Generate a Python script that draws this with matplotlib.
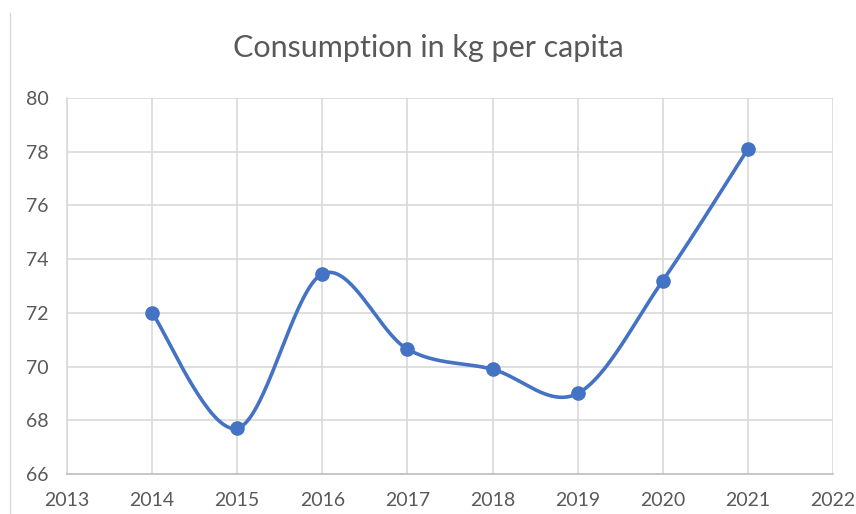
import numpy as np
import matplotlib
matplotlib.use("Agg")
import matplotlib.pyplot as plt
from matplotlib.lines import Line2D

years = [2014, 2015, 2016, 2017, 2018, 2019, 2020, 2021]
consumption = [72.0, 67.7, 73.45, 70.65, 69.9, 69.0, 73.2, 78.1]
title = "Consumption in kg per capita"

plt.rcParams['font.family'] = ['Lato', 'DejaVu Sans']


def smooth_curve(x, y, n=40):
    # Excel-like smoothing: Catmull-Rom as cubic Bezier segments
    p = np.column_stack([x, y]).astype(float)
    pts = np.vstack([p[0], p, p[-1]])
    out = []
    for i in range(1, len(pts) - 2):
        p0, p1, p2, p3 = pts[i - 1], pts[i], pts[i + 1], pts[i + 2]
        c1 = p1 + (p2 - p0) / 6.0
        c2 = p2 - (p3 - p1) / 6.0
        t = np.linspace(0, 1, n)[:, None]
        seg = ((1 - t) ** 3) * p1 + 3 * ((1 - t) ** 2) * t * c1 \
            + 3 * (1 - t) * t ** 2 * c2 + t ** 3 * p2
        out.append(seg if i == 1 else seg[1:])
    out = np.vstack(out)
    return out[:, 0], out[:, 1]


fig = plt.figure(figsize=(8.56, 5.14), dpi=100)
ax = fig.add_axes([67 / 856, 1 - 474 / 514, (833 - 67) / 856, (474 - 98) / 514])

sx, sy = smooth_curve(years, consumption)
ax.plot(sx, sy, color='#4472C4', lw=2.6, solid_capstyle='round', zorder=3)
ax.plot(years, consumption, 'o', color='#4472C4', markersize=9.5, zorder=4)

ax.set_xlim(2013, 2022)
ax.set_ylim(66, 80)
ax.set_xticks(range(2013, 2023))
ax.set_yticks(range(66, 81, 2))
ax.grid(True, color='#D9D9D9', lw=1.2)
ax.set_axisbelow(True)
for s in ['top', 'right']:
    ax.spines[s].set_visible(False)
ax.spines['left'].set_color('#D9D9D9')
ax.spines['bottom'].set_color('#BFBFBF')
ax.spines['left'].set_linewidth(1.2)
ax.spines['bottom'].set_linewidth(1.2)
ax.tick_params(axis='x', length=0, labelsize=14, colors='#595959', pad=13)
ax.tick_params(axis='y', length=0, labelsize=14, colors='#595959', pad=13)

fig.text(0.5, 1 - 48 / 514, title, ha='center', va='center',
         fontsize=22, color='#595959')

# chart area border on the left
fig.add_artist(Line2D([10 / 856, 10 / 856], [0, 1 - 13 / 514],
                      transform=fig.transFigure, color='#D9D9D9', lw=1))

fig.savefig('out.png', dpi=100)
